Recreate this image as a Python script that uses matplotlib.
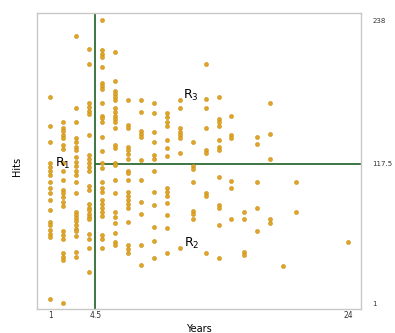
import matplotlib
matplotlib.use('Agg')
import matplotlib.pyplot as plt

# Hits per player, grouped by years in the majors
hits_by_year = {
    1: [174, 149, 136, 118, 115, 112, 108, 102, 97, 93, 87, 79, 69, 66, 62, 59, 56, 4],
    2: [153, 148, 145, 142, 139, 133, 130, 118, 112, 104, 96, 93, 90, 86, 82, 61, 58, 55, 43, 40, 37, 1],
    3: [225, 164, 153, 139, 136, 132, 129, 123, 119, 116, 112, 108, 102, 93, 77, 75, 72, 70, 66, 63, 61, 57, 44, 40],
    4: [214, 201, 169, 165, 162, 159, 142, 125, 122, 118, 115, 112, 99, 96, 84, 81, 79, 76, 73, 71, 59, 55, 47, 27],
    5: [238, 213, 210, 207, 199, 185, 183, 180, 169, 158, 156, 153, 140, 128, 118, 114, 102, 97, 94, 87, 84, 81, 77, 74, 58, 55, 47],
    6: [211, 187, 179, 176, 174, 171, 164, 161, 158, 155, 153, 148, 133, 131, 118, 117, 104, 93, 77, 73, 68, 60, 52, 50],
    7: [171, 150, 148, 132, 129, 126, 122, 112, 110, 104, 94, 91, 87, 84, 81, 69, 50, 46, 43],
    8: [171, 161, 145, 143, 140, 121, 104, 86, 76, 50, 33],
    9: [169, 160, 144, 136, 125, 122, 112, 94, 83, 65, 53, 39],
    10: [160, 157, 153, 149, 138, 131, 124, 97, 94, 91, 85, 75, 64, 43],
    11: [171, 164, 148, 144, 142, 139, 127, 47],
    12: [136, 116, 113, 102, 78, 76, 71],
    13: [201, 172, 164, 148, 129, 127, 93, 91, 43],
    14: [174, 155, 153, 149, 138, 132, 129, 107, 83, 81, 66, 39],
    15: [158, 142, 139, 103, 97, 71],
    16: [77, 71, 44, 41],
    17: [140, 134, 102, 81, 61],
    18: [169, 143, 122, 71, 68],
    19: [32],
    20: [102, 77],
    24: [52],
}

years_split = 4.5
hits_split = 117.5
x_ticks = [1, 4.5, 24]
x_labels = ['1', '4.5', '24']
y_ticks = [1, 117.5, 238]
y_labels = ['1', '117.5', '238']

region_labels = ['R_1', 'R_2', 'R_3']
region_pos = [(2.0, 118), (11.9, 51), (11.9, 175)]

years = []
hits = []
for yr, hs in hits_by_year.items():
    years += [yr] * len(hs)
    hits += hs

fig = plt.figure(figsize=(3.95, 3.33), dpi=100)
ax = fig.add_axes([0.094, 0.072, 0.82, 0.889])

ax.scatter(years, hits, s=9, color='#E0A526', edgecolors='#C08A10', linewidths=0.3, zorder=3)

green = '#2F6B35'
ax.axvline(years_split, color=green, lw=1.3, zorder=2)
ax.hlines(hits_split, years_split, 25, color=green, lw=1.3, zorder=2)

for lab, (x, y) in zip(region_labels, region_pos):
    ax.text(x, y, r'$\mathregular{' + lab + '}$', fontsize=9, ha='center', va='center', zorder=4)

ax.set_xlim(0, 25)
ax.set_ylim(-4, 244)

ax.set_xticks(x_ticks)
ax.set_xticklabels(x_labels, fontsize=5.5)
ax.set_yticks(y_ticks)
ax.set_yticklabels(y_labels, fontsize=5)
ax.yaxis.tick_right()
ax.tick_params(axis='x', length=0, pad=1.5, colors='#333333')
ax.tick_params(axis='y', length=0, pad=8, colors='#333333')

for sp in ax.spines.values():
    sp.set_color('#C8C8C8')
    sp.set_linewidth(1.0)

ax.set_xlabel('Years', fontsize=7, labelpad=3)
fig.text(0.043, 0.5, 'Hits', rotation=90, fontsize=7, ha='center', va='center')

fig.savefig('out.png', dpi=100)
